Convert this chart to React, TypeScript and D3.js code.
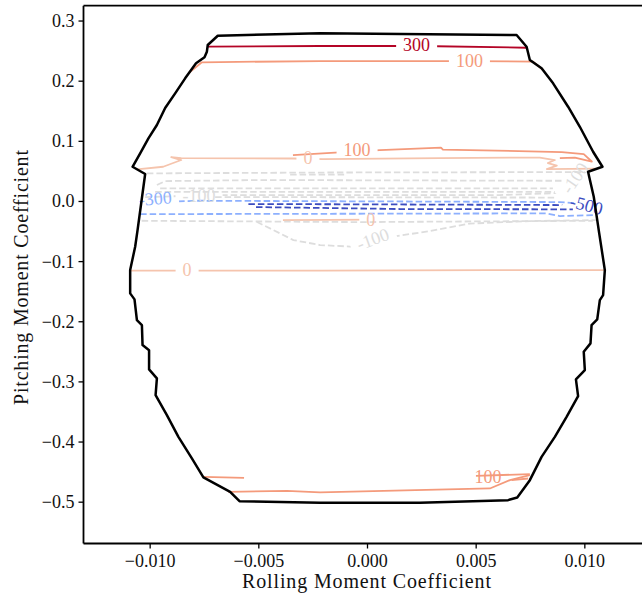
import React from 'react';
import * as d3 from 'd3';

type P = [number, number];

const W = 642;
const H = 598;

// axis ticks
const xTicks = [-0.01, -0.005, 0, 0.005, 0.01];
const xTickLabels = ['\u22120.010', '\u22120.005', '0.000', '0.005', '0.010'];
const yTicks = [0.3, 0.2, 0.1, 0.0, -0.1, -0.2, -0.3, -0.4, -0.5];
const yTickLabels = ['0.3', '0.2', '0.1', '0.0', '\u22120.1', '\u22120.2', '\u22120.3', '\u22120.4', '\u22120.5'];

const xLabel = 'Rolling Moment Coefficient';
const yLabel = 'Pitching Moment Coefficient';

// coolwarm colormap stops (levels normalised between -500 and 300)
const cmapStops = ['#3b4cc0', '#6282ea', '#8db0fe', '#b8d0f9', '#dddddd', '#f5c4ad', '#f49a7b', '#de604d', '#b40426'];
const levelRange = [-500, 300];

// envelope boundary
const boundary: P[] = [
  [-0.00689, 0.2756], [-0.00735, 0.2601], [-0.00739, 0.2490], [-0.0075, 0.2397], [-0.00789, 0.2297],
  [-0.00839, 0.2047], [-0.00885, 0.1798], [-0.00931, 0.1553], [-0.00969, 0.1271], [-0.01008, 0.1049],
  [-0.01046, 0.08], [-0.01081, 0.0577], [-0.01023, 0.0456], [-0.01058, -0.0476], [-0.01069, -0.0753],
  [-0.01092, -0.1141], [-0.01092, -0.1528], [-0.01072, -0.1628], [-0.01061, -0.1973], [-0.01038, -0.2056],
  [-0.01035, -0.2388], [-0.01005, -0.2472], [-0.01005, -0.2793], [-0.00969, -0.2942], [-0.00975, -0.322],
  [-0.00923, -0.3553], [-0.0087, -0.3914], [-0.00808, -0.4273], [-0.00755, -0.4589], [-0.00632, -0.4828],
  [-0.00589, -0.4983], [-0.00218, -0.5011], [0.00241, -0.5008], [0.00647, -0.4966], [0.00689, -0.4921],
  [0.00747, -0.4634], [0.00801, -0.4246], [0.00862, -0.3914], [0.00916, -0.3581], [0.00969, -0.3237],
  [0.00959, -0.2959], [0.01, -0.2804], [0.00995, -0.25], [0.01026, -0.236], [0.01031, -0.2056],
  [0.01057, -0.1961], [0.01069, -0.164], [0.01084, -0.1557], [0.01092, -0.1141], [0.01066, -0.0526],
  [0.01041, 0.0078], [0.0102, 0.0411], [0.01015, 0.0494], [0.01081, 0.0577], [0.01038, 0.0827],
  [0.00977, 0.1242], [0.00923, 0.1575], [0.00854, 0.1964], [0.00801, 0.2214], [0.00747, 0.2352],
  [0.00732, 0.2573], [0.00686, 0.2768], [-0.00218, 0.2796],
];

// contour lines per level
const level300: P[][] = [
  [[-0.00735, 0.2573], [-0.00218, 0.2585], [0.00241, 0.2585], [0.00732, 0.2556]],
];
const level100: P[][] = [
  [[-0.00824, 0.2131], [-0.00762, 0.2314], [-0.00218, 0.2335], [0.00471, 0.2335], [0.00762, 0.2324], [0.00808, 0.2185]],
  [[-0.00343, 0.0772], [-0.00149, 0.0813], [0.00057, 0.0855], [0.00338, 0.0896], [0.00347, 0.0863], [0.00894, 0.0822],
   [0.00995, 0.0788], [0.01032, 0.0664], [0.00954, 0.073], [0.00885, 0.0722]],
  [[-0.00755, -0.4579], [-0.00568, -0.4595]],
  [[-0.00641, -0.4828], [-0.00371, -0.4812], [-0.00218, -0.4838], [0.00563, -0.4772], [0.00655, -0.4634], [0.00747, -0.4551]],
  [[0.00499, -0.4562], [0.00747, -0.4534]],
  [[0.00663, -0.4634], [0.00739, -0.4606]],
];
const level0: P[][] = [
  [[-0.01061, 0.0534], [-0.0094, 0.0577], [-0.00857, 0.0689], [-0.00903, 0.0738], [-0.00857, 0.0722], [-0.00343, 0.0714],
   [-0.00205, 0.0705], [0.00333, 0.0722], [0.00793, 0.073], [0.00862, 0.0689], [0.0083, 0.0639], [0.00871, 0.0597],
   [0.00825, 0.0539], [0.01046, 0.0547]],
  [[-0.01092, -0.1149], [-0.00218, -0.1149], [0.00563, -0.1141], [0.01092, -0.1141]],
  [[-0.00389, -0.0309], [0.0002, -0.0301]],
];
const levelM100: P[][] = [
  [[-0.01015, 0.0467], [-0.00218, 0.0481], [0.01, 0.0489]],
  [[-0.00356, 0.0447], [-0.00103, 0.0447]],
  [[-0.00969, 0.0273], [-0.00931, 0.0339], [-0.005, 0.0356], [0.00899, 0.0344]],
  [[-0.00954, 0.0218], [0.00853, 0.0218]],
  [[-0.00977, 0.0161], [0.00862, 0.0161]],
  [[-0.01023, 0.0073], [-0.00701, 0.0106], [0.00609, 0.0106], [0.00871, 0.014], [0.00908, 0.0223], [0.01011, 0.0556]],
  [[-0.00701, 0.0073], [0.00862, 0.0065]],
  [[-0.01039, -0.0321], [-0.00034, -0.0343], [0.01037, -0.0321]],
  [[-0.0051, -0.0338], [-0.00341, -0.0642], [-0.00218, -0.0725], [-0.0008, -0.075], [0.00113, -0.0587],
   [0.00287, -0.0492], [0.00471, -0.0368], [0.00747, -0.0326], [0.01055, -0.0309]],
];
const levelM300: P[][] = [
  [[-0.01046, 0.0007], [-0.00908, -0.0002], [-0.00784, 0.0012], [0.00885, -0.001], [0.00954, -0.0027]],
  [[-0.01046, -0.021], [-0.00945, -0.021], [0.00824, -0.0198], [0.00885, -0.0243], [0.01041, -0.0226]],
];
const levelM500: P[][] = [
  [[-0.00548, -0.0043], [0.0, -0.0048], [0.00936, -0.006]],
  [[-0.00513, -0.0093], [0.0015, -0.0126], [0.00945, -0.0131]],
];

const contourLevels = [300, 100, 0, -100, -300, -500];
const contourLines = [level300, level100, level0, levelM100, levelM300, levelM500];

// inline contour labels: level, line index within level (-1: none), text, x, y, angle
const labelLevel = [300, 100, 100, 100, 0, 0, 0, -300, -100, -100, -100, -500];
const labelLine = [0, 0, 1, -1, 0, 1, 2, 0, 5, 5, 8, 0];
const labelText = ['300', '100', '100', '100', '0', '0', '0', '-300', '-100', '-100', '-100', '-500'];
const labelX = [0.00226, 0.00469, -0.00048, 0.00554, -0.00274, -0.0083, 0.00015, -0.00977, -0.00775, 0.00954, 0.00025, 0.01008];
const labelY = [0.2601, 0.2335, 0.0855, -0.4584, 0.0717, -0.1141, -0.0301, 0.0048, 0.009, 0.0389, -0.0625, -0.006];
const labelAngle = [0, 0, 0, 0, 0, 0, 0, -5, 0, -55, -20, 15];

const FONT = "'Liberation Serif', 'Times New Roman', serif";

export default function App() {
  const left = 83.5, right = 651.5, top = 5.7, bottom = 543.5;
  const x = d3.scaleLinear().domain([-0.013067, 0.013067]).range([left, right]);
  const y = d3.scaleLinear().domain([-0.5687, 0.3255]).range([bottom, top]);
  const tScale = d3.scaleLinear().domain(levelRange).range([0, 1]);
  const cmap = d3.scaleLinear<string>()
    .domain(cmapStops.map((_, i) => i / (cmapStops.length - 1)))
    .range(cmapStops)
    .interpolate(d3.interpolateRgb);
  const color = (lv: number) => cmap(tScale(lv));
  const line = d3.line<P>().x(d => x(d[0])).y(d => y(d[1]));

  const fs = 18;
  const labelWidth = (t: string) => t.replace('-', '').length * 0.5 * fs + (t.includes('-') ? 0.34 * fs : 0);

  const masks: React.ReactNode[] = [];
  const paths: React.ReactNode[] = [];
  contourLevels.forEach((lv, li) => {
    contourLines[li].forEach((pts, i) => {
      const labs = labelLevel.map((l, k) => k).filter(k => labelLevel[k] === lv && labelLine[k] === i);
      let maskId: string | undefined;
      if (labs.length) {
        maskId = `m${li}_${i}`;
        masks.push(
          <mask id={maskId} key={maskId} maskUnits="userSpaceOnUse" x={0} y={0} width={W} height={H}>
            <rect x={0} y={0} width={W} height={H} fill="white" />
            {labs.map(k => {
              const w = labelWidth(labelText[k]) + 14;
              return (
                <rect key={k} x={-w / 2} y={-8} width={w} height={16} fill="black"
                  transform={`translate(${x(labelX[k])},${y(labelY[k])}) rotate(${labelAngle[k]})`} />
              );
            })}
          </mask>
        );
      }
      paths.push(
        <path key={`p${li}_${i}`} d={line(pts) || ''} fill="none" stroke={color(lv)} strokeWidth={1.8}
          strokeDasharray={lv < 0 ? '6.5,3' : undefined} strokeLinejoin="round"
          mask={maskId ? `url(#${maskId})` : undefined} />
      );
    });
  });

  return (
    <svg width={W} height={H} style={{ position: 'absolute', left: 0, top: 0, background: 'white' }}
      fontFamily={FONT}>
      <defs>{masks}</defs>
      <rect x={0} y={0} width={W} height={H} fill="white" />
      {paths}
      {labelText.map((t, k) => (
        <text key={`l${k}`} transform={`translate(${x(labelX[k])},${y(labelY[k])}) rotate(${labelAngle[k]})`}
          textAnchor="middle" dy="0.34em" fontSize={fs} fill={color(labelLevel[k])}>{t}</text>
      ))}
      <path d={(line(boundary) || '') + 'Z'} fill="none" stroke="#000" strokeWidth={2.5} strokeLinejoin="round" />
      {/* spines */}
      <line x1={left} x2={left} y1={top} y2={bottom} stroke="#000" strokeWidth={1.8} />
      <line x1={left} x2={right} y1={bottom} y2={bottom} stroke="#000" strokeWidth={1.8} />
      <line x1={left} x2={right} y1={top} y2={top} stroke="#000" strokeWidth={1.8} />
      <line x1={right} x2={right} y1={top} y2={bottom} stroke="#000" strokeWidth={1.8} />
      {xTicks.map((t, i) => (
        <g key={`xt${i}`}>
          <line x1={x(t)} x2={x(t)} y1={bottom} y2={bottom + 5} stroke="#000" strokeWidth={1.3} />
          <text x={x(t)} y={bottom + 23} textAnchor="middle" fontSize={18} fill="#111">{xTickLabels[i]}</text>
        </g>
      ))}
      {yTicks.map((t, i) => (
        <g key={`yt${i}`}>
          <line x1={left - 5} x2={left} y1={y(t)} y2={y(t)} stroke="#000" strokeWidth={1.3} />
          <text x={left - 9} y={y(t) + 6} textAnchor="end" fontSize={18} fill="#111">{yTickLabels[i]}</text>
        </g>
      ))}
      <text x={366.5} y={588} textAnchor="middle" fontSize={20} fill="#111" textLength={249} lengthAdjust="spacing">{xLabel}</text>
      <text transform="translate(28,277.5) rotate(-90)" textAnchor="middle" fontSize={20} fill="#111" textLength={255} lengthAdjust="spacing">{yLabel}</text>
    </svg>
  );
}
